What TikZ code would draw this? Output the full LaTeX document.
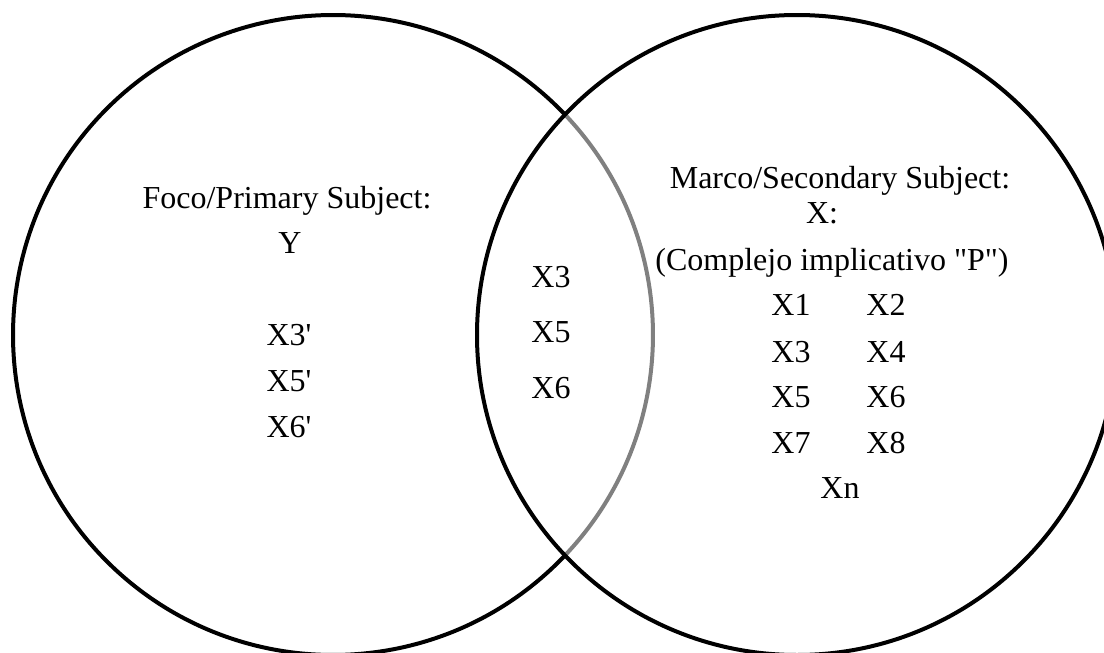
\documentclass[tikz,border=0pt]{standalone}
\usepackage{fontspec}
\setmainfont{Liberation Serif}
\begin{document}
\begin{tikzpicture}[x=1pt, y=-1pt,
  ring/.style={line width=4pt, draw=black},
  lens/.style={line width=4pt, draw=black!50},
  lbl/.style={anchor=base, inner sep=0pt, font=\fontsize{32}{38}\selectfont}]
  \useasboundingbox (0,0) rectangle (1104,653);
  \clip (0,0) rectangle (1104,653);

  % left set: outer arc in black, the part inside the overlap in grey
  \draw[ring] ([shift={(333,335)}]43.5:320) arc[start angle=43.5, end angle=316.5, radius=320];
  \draw[lens] ([shift={(333,335)}]-43.5:320) arc[start angle=-43.5, end angle=43.5, radius=320];
  % right set
  \draw[ring] (797,335) circle[radius=320];

  % primary subject
  \node[lbl] (foco) at (287,208) {Foco/Primary Subject:};
  \node[lbl] (y) at (290,253) {Y};
  \node[lbl] (p3) at (289,345) {X3\textquotesingle};
  \node[lbl] (p5) at (289,391) {X5\textquotesingle};
  \node[lbl] (p6) at (289,437) {X6\textquotesingle};

  % shared elements
  \node[lbl] (s3) at (551,287) {X3};
  \node[lbl] (s5) at (551,342) {X5};
  \node[lbl] (s6) at (551,398) {X6};

  % secondary subject
  \node[lbl] (marco) at (840,188) {Marco/Secondary Subject:};
  \node[lbl] (x) at (822,223) {X:};
  \node[lbl] (cplx) at (832,270) {(Complejo implicativo \textquotedbl P\textquotedbl)};
  \node[lbl] (x1) at (791,315) {X1};
  \node[lbl] (x2) at (886,315) {X2};
  \node[lbl] (x3) at (791,362) {X3};
  \node[lbl] (x4) at (886,362) {X4};
  \node[lbl] (x5) at (791,407) {X5};
  \node[lbl] (x6) at (886,407) {X6};
  \node[lbl] (x7) at (791,453) {X7};
  \node[lbl] (x8) at (886,453) {X8};
  \node[lbl] (xn) at (840,498) {Xn};
\end{tikzpicture}
\end{document}
